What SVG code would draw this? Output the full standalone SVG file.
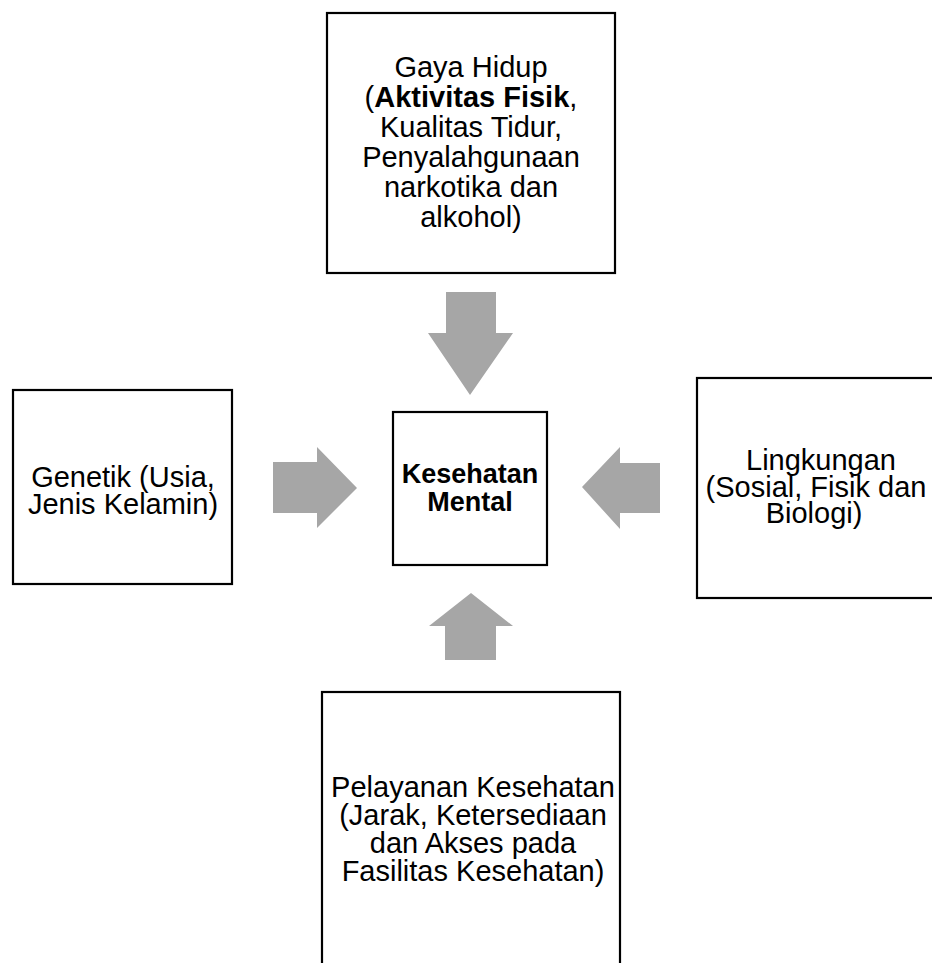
<svg xmlns="http://www.w3.org/2000/svg" width="932" height="963" viewBox="0 0 932 963">
<style>
.box{fill:#fff;stroke:#000;stroke-width:2.2}
.arr{fill:#a6a6a6;stroke:none}
text{font-family:"Liberation Sans",Arial,sans-serif;font-size:29px;fill:#000;text-anchor:middle}
.b{font-weight:bold}
</style>
<rect width="932" height="963" fill="#fff"/>
<g id="connectors">
<polygon class="arr" points="446,292 496,292 496,333 513,333 470,395 428,333 446,333"/>
<polygon class="arr" points="273,462 317,462 317,447 357,488 317,528 317,513 273,513"/>
<polygon class="arr" points="660,463 620,463 620,447 582,487 620,529 620,513 660,513"/>
<polygon class="arr" points="471,593 513,626 496,626 496,660 445,660 445,626 429,626"/>
</g>
<g id="gaya-hidup">
<rect class="box" x="327" y="13" width="288" height="260"/>
<text x="471" y="77">Gaya Hidup</text>
<text x="471" y="107">(<tspan class="b">Aktivitas Fisik</tspan>,</text>
<text x="471" y="137">Kualitas Tidur,</text>
<text x="471" y="167">Penyalahgunaan</text>
<text x="471" y="197">narkotika dan</text>
<text x="471" y="227">alkohol)</text>
</g>
<g id="genetik">
<rect class="box" x="13" y="390" width="219" height="194"/>
<text x="123" y="487">Genetik (Usia,</text>
<text x="123" y="514">Jenis Kelamin)</text>
</g>
<g id="kesehatan-mental">
<rect class="box" x="393" y="412" width="154" height="153"/>
<text class="b" x="470" y="483" style="font-size:27px">Kesehatan</text>
<text class="b" x="470" y="511" style="font-size:27px">Mental</text>
</g>
<g id="lingkungan">
<rect class="box" x="697" y="378" width="250" height="220"/>
<text x="821" y="470">Lingkungan</text>
<text x="816" y="497">(Sosial, Fisik dan</text>
<text x="814" y="523">Biologi)</text>
</g>
<g id="pelayanan-kesehatan">
<rect class="box" x="322" y="692" width="298" height="300"/>
<text x="473" y="797">Pelayanan Kesehatan</text>
<text x="473" y="825">(Jarak, Ketersediaan</text>
<text x="473" y="853">dan Akses pada</text>
<text x="473" y="881">Fasilitas Kesehatan)</text>
</g>
</svg>
